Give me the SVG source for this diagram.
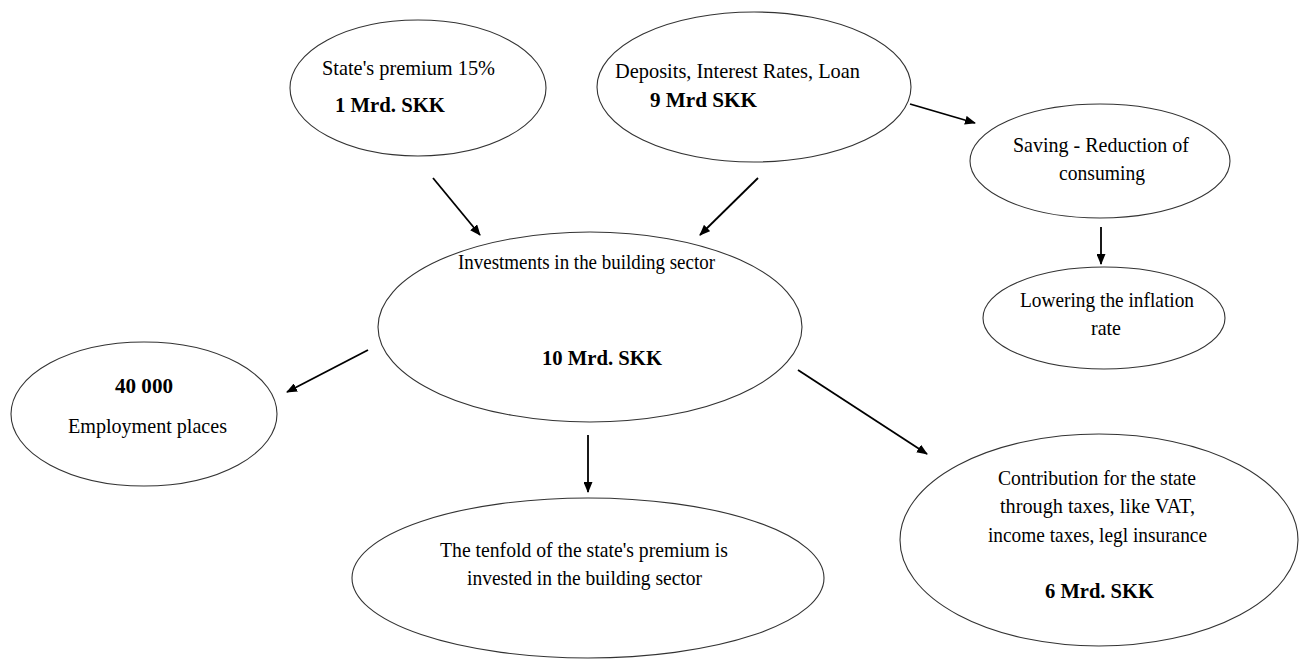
<svg xmlns="http://www.w3.org/2000/svg" width="1308" height="659" viewBox="0 0 1308 659">
<style>
.n{fill:#fff;stroke:#333;stroke-width:1.1}
.t{font-family:"Liberation Serif","Times New Roman",serif;font-size:21px;fill:#000}
.b{font-weight:bold}
.c{stroke:#000;stroke-width:1.8;fill:none;marker-end:url(#ah)}
</style>
<defs>
<marker id="ah" markerUnits="userSpaceOnUse" markerWidth="11" markerHeight="9" refX="10" refY="4.5" orient="auto">
<path d="M0,0 L11,4.5 L0,9 z" fill="#000"/>
</marker>
</defs>
<rect width="1308" height="659" fill="#fff"/>
<g id="connectors">
<line class="c" x1="433" y1="178" x2="480" y2="235"/>
<line class="c" x1="758" y1="178" x2="700" y2="235"/>
<line class="c" x1="910" y1="104" x2="975" y2="123"/>
<line class="c" x1="1101" y1="227" x2="1101" y2="264"/>
<line class="c" x1="368" y1="350" x2="287" y2="392"/>
<line class="c" x1="588" y1="435" x2="588" y2="492"/>
<line class="c" x1="798" y1="370" x2="927" y2="454"/>
</g>
<g id="state-premium">
<ellipse class="n" cx="418" cy="88" rx="128" ry="68"/>
<text class="t" x="322" y="75" textLength="173" lengthAdjust="spacingAndGlyphs">State's premium 15%</text>
<text class="t b" x="335" y="112" textLength="110" lengthAdjust="spacingAndGlyphs">1 Mrd. SKK</text>
</g>
<g id="deposits">
<ellipse class="n" cx="754" cy="87" rx="157" ry="75"/>
<text class="t" x="615" y="78" textLength="245" lengthAdjust="spacingAndGlyphs">Deposits, Interest Rates, Loan</text>
<text class="t b" x="650" y="107" textLength="107" lengthAdjust="spacingAndGlyphs">9 Mrd SKK</text>
</g>
<g id="saving">
<ellipse class="n" cx="1100" cy="161" rx="130" ry="57"/>
<text class="t" x="1013" y="152" textLength="176" lengthAdjust="spacingAndGlyphs">Saving - Reduction of</text>
<text class="t" x="1059" y="180" textLength="86" lengthAdjust="spacingAndGlyphs">consuming</text>
</g>
<g id="lowering">
<ellipse class="n" cx="1104" cy="318" rx="121" ry="51"/>
<text class="t" x="1020" y="307" textLength="174" lengthAdjust="spacingAndGlyphs">Lowering the inflation</text>
<text class="t" x="1091" y="335" textLength="30" lengthAdjust="spacingAndGlyphs">rate</text>
</g>
<g id="investments">
<ellipse class="n" cx="590" cy="327" rx="212" ry="95"/>
<text class="t" x="458" y="269" textLength="257" lengthAdjust="spacingAndGlyphs">Investments in the building sector</text>
<text class="t b" x="542" y="365" textLength="120" lengthAdjust="spacingAndGlyphs">10 Mrd. SKK</text>
</g>
<g id="employment">
<ellipse class="n" cx="144" cy="414" rx="133" ry="72"/>
<text class="t b" x="115" y="393" textLength="58" lengthAdjust="spacingAndGlyphs">40 000</text>
<text class="t" x="68" y="433" textLength="159" lengthAdjust="spacingAndGlyphs">Employment places</text>
</g>
<g id="tenfold">
<ellipse class="n" cx="588" cy="578" rx="236" ry="80"/>
<text class="t" x="440" y="557" textLength="288" lengthAdjust="spacingAndGlyphs">The tenfold of the state's premium is</text>
<text class="t" x="467" y="585" textLength="235" lengthAdjust="spacingAndGlyphs">invested in the building sector</text>
</g>
<g id="contribution">
<ellipse class="n" cx="1099" cy="540" rx="199" ry="106"/>
<text class="t" x="998" y="485" textLength="198" lengthAdjust="spacingAndGlyphs">Contribution for the state</text>
<text class="t" x="1000" y="513" textLength="195" lengthAdjust="spacingAndGlyphs">through taxes, like VAT,</text>
<text class="t" x="988" y="542" textLength="219" lengthAdjust="spacingAndGlyphs">income taxes, legl insurance</text>
<text class="t b" x="1045" y="598" textLength="109" lengthAdjust="spacingAndGlyphs">6 Mrd. SKK</text>
</g>
</svg>
